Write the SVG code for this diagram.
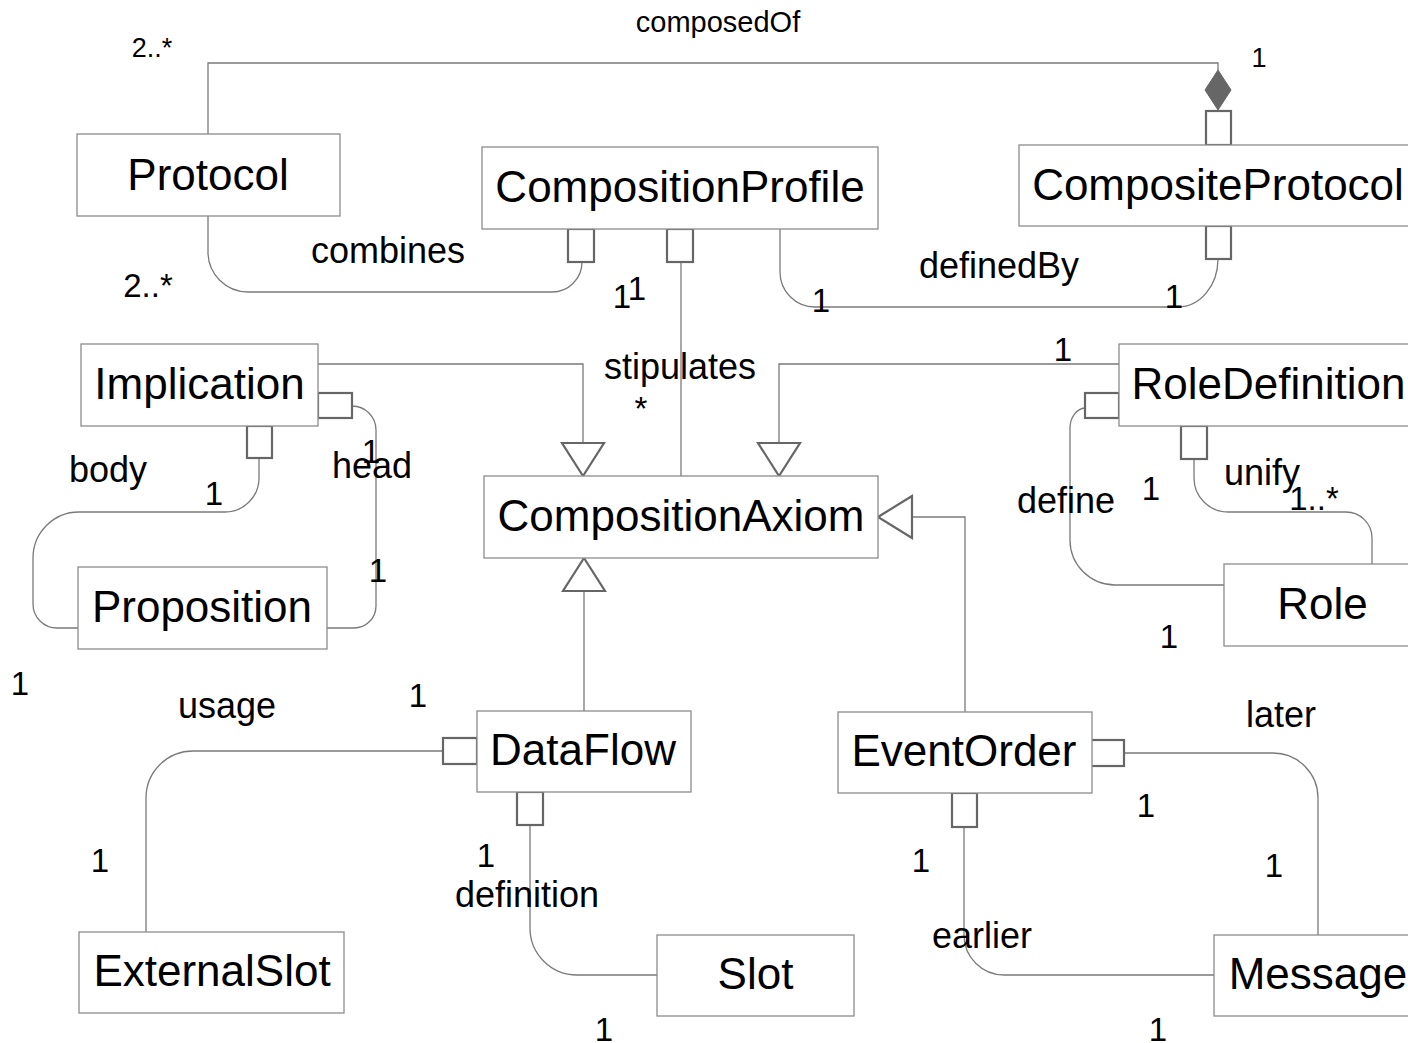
<svg xmlns="http://www.w3.org/2000/svg" width="1408" height="1043" viewBox="0 0 1408 1043">
  <style>
    .box { fill: #ffffff; stroke: #8c8c8c; stroke-width: 1.3; }
    .name { font-family: "Liberation Sans", Arial, sans-serif; font-size: 44px; fill: #000; text-anchor: middle; }
    .line { fill: none; stroke: #7a7a7a; stroke-width: 1.3; }
    .port { fill: #ffffff; stroke: #666666; stroke-width: 2.2; }
    .tri { fill: #ffffff; stroke: #666666; stroke-width: 2.2; stroke-linejoin: miter; }
    .diamond { fill: #666666; stroke: #666666; stroke-width: 1; }
    .lbl { font-family: "Liberation Sans", Arial, sans-serif; font-size: 36px; fill: #000; text-anchor: middle; }
    .mult { font-family: "Liberation Sans", Arial, sans-serif; font-size: 33px; fill: #000; text-anchor: middle; }
    .small { font-size: 27px; }
  </style>
  <rect width="1408" height="1043" fill="#ffffff"/>

  <!-- associations and generalizations -->
  <g id="connectors">
    <!-- composedOf -->
    <path class="line" d="M208,134 V63 H1218 V70"/>
    <polygon class="diamond" points="1218,70 1231,90 1218,110 1205,90"/>
    <rect class="port" x="1206" y="111" width="25" height="34"/>
    <text class="lbl" x="718" y="32" style="font-size:29px">composedOf</text>
    <text class="mult small" x="152" y="57">2..*</text>
    <text class="mult small" x="1259" y="67">1</text>

    <!-- combines -->
    <path class="line" d="M208,216 V252 A40,40 0 0 0 248,292 H552 A30,30 0 0 0 582,262"/>
    <rect class="port" x="568" y="229" width="26" height="33"/>
    <text class="lbl" x="388" y="263">combines</text>
    <text class="mult" x="148" y="297">2..*</text>
    <text class="mult" x="622" y="308">1</text>

    <!-- stipulates -->
    <path class="line" d="M681,262 V476"/>
    <rect class="port" x="667" y="229" width="26" height="33"/>
    <text class="lbl" x="680" y="379">stipulates</text>
    <text class="mult" x="637" y="300">1</text>
    <text class="mult" x="641" y="420">*</text>

    <!-- definedBy -->
    <path class="line" d="M780,229 V272 A35,35 0 0 0 815,307 H1178 A40,48 0 0 0 1218,259"/>
    <rect class="port" x="1206" y="226" width="25" height="33"/>
    <text class="lbl" x="999" y="278">definedBy</text>
    <text class="mult" x="821" y="312">1</text>
    <text class="mult" x="1174" y="308">1</text>

    <!-- Implication generalizes CompositionAxiom -->
    <path class="line" d="M318,364 H583 V443"/>
    <polygon class="tri" points="562,443 604,443 583,476"/>

    <!-- RoleDefinition generalizes CompositionAxiom -->
    <path class="line" d="M1119,364 H779 V443"/>
    <polygon class="tri" points="758,443 800,443 779,476"/>
    <text class="mult" x="1063" y="361">1</text>

    <!-- DataFlow generalizes CompositionAxiom -->
    <path class="line" d="M584,711 V591"/>
    <polygon class="tri" points="584,558 605,591 563,591"/>

    <!-- EventOrder generalizes CompositionAxiom -->
    <path class="line" d="M965,712 V517 H912"/>
    <polygon class="tri" points="878,517 912,496 912,538"/>

    <!-- body -->
    <path class="line" d="M259,458 V478 A34,34 0 0 1 225,512 H79 A46,46 0 0 0 33,558 V604 A24,24 0 0 0 57,628 H78"/>
    <rect class="port" x="247" y="426" width="25" height="32"/>
    <text class="lbl" x="108" y="482">body</text>
    <text class="mult" x="214" y="505">1</text>

    <!-- head -->
    <path class="line" d="M352,406 A24,24 0 0 1 376,430 V606 A22,22 0 0 1 354,628 H327"/>
    <rect class="port" x="318" y="393" width="34" height="25"/>
    <text class="lbl" x="372" y="478">head</text>
    <text class="mult" x="371" y="463">1</text>
    <text class="mult" x="378" y="582">1</text>

    <text class="mult" x="20" y="695">1</text>

    <!-- usage -->
    <path class="line" d="M443,751 H193 A47,47 0 0 0 146,798 V932"/>
    <rect class="port" x="443" y="738" width="34" height="26"/>
    <text class="lbl" x="227" y="718">usage</text>
    <text class="mult" x="418" y="707">1</text>
    <text class="mult" x="100" y="872">1</text>

    <!-- definition -->
    <path class="line" d="M530,825 V928 A47,47 0 0 0 577,975 H657"/>
    <rect class="port" x="517" y="792" width="26" height="33"/>
    <text class="lbl" x="527" y="907">definition</text>
    <text class="mult" x="486" y="867">1</text>
    <text class="mult" x="604" y="1041">1</text>

    <!-- earlier -->
    <path class="line" d="M964,827 V935 A40,40 0 0 0 1004,975 H1214"/>
    <rect class="port" x="952" y="793" width="25" height="34"/>
    <text class="lbl" x="982" y="948">earlier</text>
    <text class="mult" x="921" y="872">1</text>
    <text class="mult" x="1158" y="1041">1</text>

    <!-- later -->
    <path class="line" d="M1124,753 H1273 A45,45 0 0 1 1318,798 V935"/>
    <rect class="port" x="1091" y="740" width="33" height="26"/>
    <text class="lbl" x="1281" y="727">later</text>
    <text class="mult" x="1146" y="817">1</text>
    <text class="mult" x="1274" y="877">1</text>

    <!-- define -->
    <path class="line" d="M1085,408 A16,20 0 0 0 1070,428 V540 A45,45 0 0 0 1115,585 H1224"/>
    <rect class="port" x="1085" y="393" width="34" height="25"/>
    <text class="lbl" x="1066" y="513">define</text>
    <text class="mult" x="1151" y="500">1</text>
    <text class="mult" x="1169" y="648">1</text>

    <!-- unify -->
    <path class="line" d="M1194,459 V478 A34,34 0 0 0 1228,512 H1346 A26,26 0 0 1 1372,538 V564"/>
    <rect class="port" x="1181" y="426" width="26" height="33"/>
    <text class="lbl" x="1262" y="485">unify</text>
    <text class="mult" x="1314" y="510">1..*</text>
  </g>

  <!-- classes -->
  <g id="Protocol">
    <rect class="box" x="77" y="134" width="263" height="82"/>
    <text class="name" x="208" y="190">Protocol</text>
  </g>
  <g id="CompositionProfile">
    <rect class="box" x="482" y="147" width="396" height="82"/>
    <text class="name" x="680" y="202">CompositionProfile</text>
  </g>
  <g id="CompositeProtocol">
    <rect class="box" x="1019" y="145" width="398" height="81"/>
    <text class="name" x="1218" y="200">CompositeProtocol</text>
  </g>
  <g id="Implication">
    <rect class="box" x="81" y="344" width="237" height="82"/>
    <text class="name" x="199.5" y="399">Implication</text>
  </g>
  <g id="Proposition">
    <rect class="box" x="78" y="567" width="249" height="82"/>
    <text class="name" x="202" y="622">Proposition</text>
  </g>
  <g id="CompositionAxiom">
    <rect class="box" x="484" y="476" width="394" height="82"/>
    <text class="name" x="681" y="531">CompositionAxiom</text>
  </g>
  <g id="RoleDefinition">
    <rect class="box" x="1119" y="344" width="299" height="82"/>
    <text class="name" x="1268.5" y="399">RoleDefinition</text>
  </g>
  <g id="Role">
    <rect class="box" x="1224" y="564" width="197" height="82"/>
    <text class="name" x="1322.5" y="619">Role</text>
  </g>
  <g id="DataFlow">
    <rect class="box" x="477" y="711" width="214" height="81"/>
    <text class="name" x="583" y="765">DataFlow</text>
  </g>
  <g id="EventOrder">
    <rect class="box" x="838" y="712" width="254" height="81"/>
    <text class="name" x="964" y="766">EventOrder</text>
  </g>
  <g id="ExternalSlot">
    <rect class="box" x="79" y="932" width="265" height="81"/>
    <text class="name" x="212" y="986">ExternalSlot</text>
  </g>
  <g id="Slot">
    <rect class="box" x="657" y="935" width="197" height="81"/>
    <text class="name" x="755.5" y="989">Slot</text>
  </g>
  <g id="Message">
    <rect class="box" x="1214" y="935" width="208" height="81"/>
    <text class="name" x="1318" y="989">Message</text>
  </g>
</svg>
